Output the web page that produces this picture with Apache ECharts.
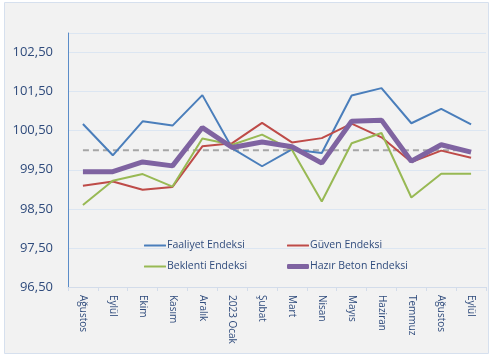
<!DOCTYPE html>
<html>
<head>
<meta charset="utf-8">
<script src="https://cdn.jsdelivr.net/npm/echarts@6/dist/echarts.min.js"></script>
<style>
html,body{margin:0;padding:0;background:#fff;}
#c{width:500px;height:362px;}
</style>
</head>
<body>
<div id="c"></div>
<script>
const categories = ['Ağustos','Eylül','Ekim','Kasım','Aralık','2023 Ocak','Şubat','Mart','Nisan','Mayıs','Haziran','Temmuz','Ağustos','Eylül'];
const faaliyet = [100.67, 99.87, 100.74, 100.63, 101.41, 100.05, 99.59, 100.02, 99.93, 101.40, 101.59, 100.69, 101.06, 100.66];
const guven    = [99.09, 99.20, 98.99, 99.06, 100.10, 100.18, 100.70, 100.20, 100.31, 100.68, 100.33, 99.70, 99.99, 99.81];
const beklenti = [98.60, 99.22, 99.39, 99.07, 100.30, 100.14, 100.40, 100.01, 98.69, 100.18, 100.44, 98.79, 99.40, 99.40];
const hazirBeton = [99.45, 99.45, 99.70, 99.60, 100.58, 100.07, 100.21, 100.09, 99.67, 100.74, 100.77, 99.72, 100.14, 99.95];
const refLine  = [100, 100, 100, 100, 100, 100, 100, 100, 100, 100, 100, 100, 100, 100];
const yMin = 96.5, yMax = 103, yStep = 1;

const chart = echarts.init(document.getElementById('c'));
const txt = '#2f4b7c';
const font = 'Open Sans';
function leg(name, left, top, h) {
  return {
    orient: 'vertical', left: left, top: top, itemWidth: 22, itemHeight: h, icon: 'roundRect',
    textStyle: {color: txt, fontFamily: font, fontSize: 10.5, padding: [0,0,0,-4]},
    data: [name]
  };
}
chart.setOption({
  animation: false,
  backgroundColor: '#ffffff',
  graphic: [{
    type: 'rect', z: -10, silent: true,
    shape: {x: 4.5, y: 2.5, width: 484, height: 351},
    style: {fill: '#f2f2f2', stroke: '#d6e0ee', lineWidth: 1}
  }],
  grid: {left: 68, top: 33, right: 14, bottom: 75},
  legend: [
    leg('Faaliyet Endeksi', 139, 235, 2),
    leg('Beklenti Endeksi', 139, 256, 2),
    leg('Güven Endeksi', 282, 235, 2),
    leg('Hazır Beton Endeksi', 282, 256, 5)
  ],
  xAxis: {
    type: 'category', data: categories, boundaryGap: true,
    axisLine: {lineStyle: {color: '#d3dcea', width: 1}},
    axisTick: {show: true, length: 4, lineStyle: {color: '#d3dcea'}},
    axisLabel: {rotate: -90, color: txt, fontFamily: font, fontSize: 10, margin: 8, interval: 0}
  },
  yAxis: {
    type: 'value', min: yMin, max: yMax, interval: yStep,
    axisLine: {show: true, lineStyle: {color: '#5b8cc8', width: 1}},
    axisTick: {show: false},
    splitLine: {lineStyle: {color: '#dce6f2', width: 1}},
    axisLabel: {color: txt, fontFamily: font, fontSize: 13, margin: 15,
      formatter: v => v.toFixed(2).replace('.', ','), showMaxLabel: false}
  },
  series: [
    {name: 'Ref', type: 'line', data: refLine, symbol: 'none', silent: true,
      lineStyle: {color: '#a6a6a6', width: 2, type: [6, 4]}, z: 1},
    {name: 'Faaliyet Endeksi', type: 'line', data: faaliyet, symbol: 'none',
      itemStyle: {color: '#4a7ebb'}, lineStyle: {color: '#4a7ebb', width: 2}, z: 2},
    {name: 'Güven Endeksi', type: 'line', data: guven, symbol: 'none',
      itemStyle: {color: '#be4b48'}, lineStyle: {color: '#be4b48', width: 2}, z: 2},
    {name: 'Beklenti Endeksi', type: 'line', data: beklenti, symbol: 'none',
      itemStyle: {color: '#98b954'}, lineStyle: {color: '#98b954', width: 2}, z: 2},
    {name: 'Hazır Beton Endeksi', type: 'line', data: hazirBeton, symbol: 'none',
      itemStyle: {color: '#7f63a1'}, lineStyle: {color: '#7f63a1', width: 5}, z: 3}
  ]
});
</script>
</body>
</html>
